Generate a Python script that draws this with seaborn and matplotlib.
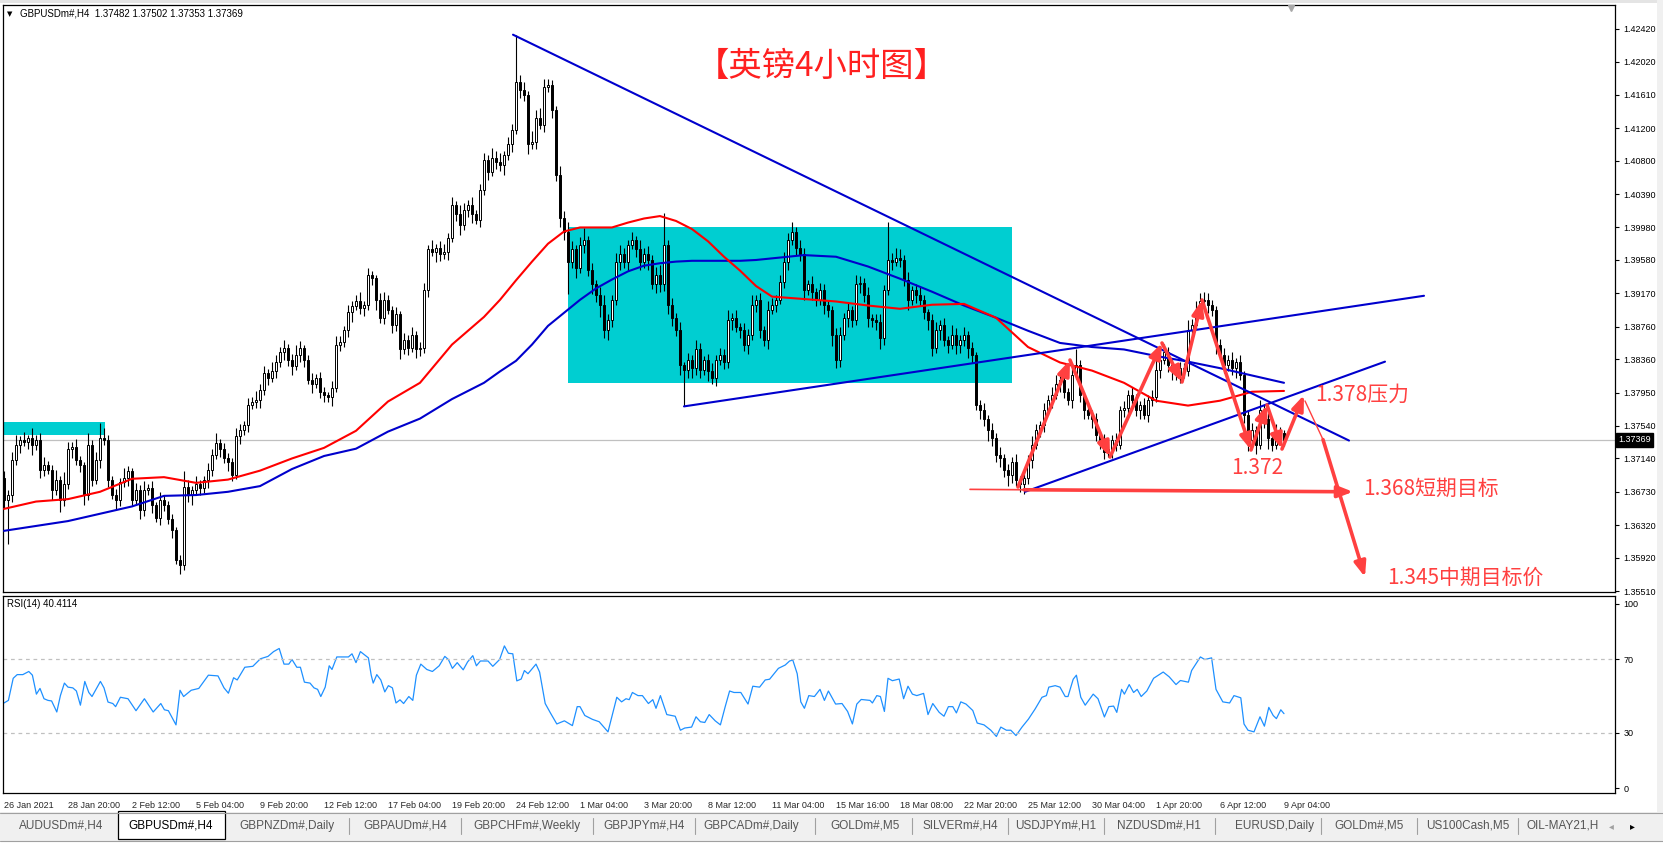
import numpy as np
import pandas as pd
import matplotlib
matplotlib.use("Agg")
import matplotlib.pyplot as plt
from matplotlib.patches import Rectangle
import seaborn as sns

sns.set_style("white")
plt.rcParams['font.family'] = ['Liberation Sans', 'DejaVu Sans']
CJK = ['Noto Sans CJK SC', 'DejaVu Sans']

# --- GBPUSD H4 closes, in 1/10000 (one per bar) ---
first_open = 13690
closes = [
    13663, 13669, 13712, 13731, 13737, 13734, 13739, 13730, 13737, 13700, 13706, 13700, 13675, 13688, 13663, 13682, 13725, 13728, 13712, 13706,
    13669, 13731, 13688, 13712, 13739, 13737, 13688, 13669, 13663, 13685, 13690, 13698, 13663, 13675, 13651, 13675, 13678, 13657, 13641, 13663,
    13657, 13639, 13626, 13589, 13583, 13679, 13669, 13675, 13682, 13678, 13688, 13700, 13718, 13733, 13725, 13715, 13710, 13694, 13742, 13749,
    13755, 13780, 13784, 13786, 13798, 13819, 13813, 13821, 13833, 13845, 13850, 13835, 13828, 13841, 13850, 13835, 13811, 13805, 13813, 13796,
    13792, 13789, 13801, 13854, 13857, 13872, 13894, 13902, 13907, 13899, 13903, 13939, 13936, 13909, 13887, 13909, 13897, 13878, 13891, 13848,
    13860, 13850, 13866, 13848, 13850, 13921, 13971, 13968, 13973, 13965, 13968, 13985, 14026, 14014, 14001, 14020, 14026, 14014, 14007, 14044,
    14081, 14066, 14084, 14079, 14075, 14087, 14100, 14118, 14177, 14167, 14161, 14100, 14103, 14133, 14124, 14171, 14173, 14143, 14063, 14010,
    13993, 13956, 13971, 13948, 13977, 13983, 13946, 13928, 13915, 13903, 13872, 13884, 13909, 13956, 13965, 13956, 13977, 13983, 13971, 13956,
    13965, 13958, 13928, 13940, 13928, 13977, 13903, 13887, 13872, 13829, 13823, 13835, 13825, 13848, 13823, 13835, 13821, 13813, 13835, 13841,
    13833, 13884, 13887, 13875, 13872, 13854, 13866, 13903, 13909, 13872, 13860, 13897, 13903, 13909, 13931, 13956, 13983, 13993, 13973, 13965,
    13921, 13928, 13919, 13909, 13921, 13903, 13897, 13866, 13835, 13866, 13887, 13897, 13884, 13928, 13930, 13915, 13887, 13884, 13882, 13862,
    13921, 13958, 13956, 13961, 13958, 13934, 13909, 13921, 13915, 13909, 13894, 13884, 13850, 13872, 13878, 13860, 13854, 13866, 13854, 13860,
    13866, 13850, 13841, 13780, 13774, 13762, 13749, 13739, 13718, 13715, 13700, 13694, 13710, 13688, 13682, 13690, 13712, 13731, 13749, 13755,
    13774, 13786, 13792, 13805, 13811, 13796, 13786, 13817, 13829, 13792, 13774, 13768, 13762, 13743, 13737, 13722, 13725, 13737, 13731, 13774,
    13776, 13792, 13786, 13774, 13780, 13768, 13786, 13789, 13823, 13835, 13845, 13829, 13823, 13817, 13825, 13821, 13872, 13878, 13897, 13907,
    13909, 13903, 13897, 13854, 13841, 13829, 13835, 13825, 13833, 13817, 13768, 13737, 13749, 13731, 13774, 13762, 13739, 13731, 13747, 13745, 13737,
]
wick_up = [
    8, 6, 10, 12, 5, 9, 4, 12, 6, 8, 10, 5, 6, 12, 4, 15, 9, 6, 10, 5,
    4, 14, 6, 10, 19, 12, 6, 4, 8, 5, 12, 7, 4, 9, 6, 11, 5, 8, 4, 10,
    6, 5, 7, 4, 6, 20, 8, 5, 10, 6, 4, 9, 7, 12, 5, 8, 6, 4, 10, 7,
    5, 8, 6, 11, 7, 9, 5, 12, 8, 6, 10, 5, 7, 12, 9, 4, 6, 8, 5, 7,
    6, 4, 8, 10, 7, 5, 9, 6, 8, 12, 5, 9, 6, 4, 8, 10, 6, 5, 9, 4,
    8, 6, 10, 5, 7, 9, 6, 12, 5, 8, 10, 6, 9, 5, 12, 8, 6, 10, 5, 7,
    9, 6, 12, 8, 10, 5, 9, 7, 58, 8, 10, 5, 14, 9, 12, 9, 8, 6, 4, 10,
    8, 12, 10, 6, 9, 14, 5, 8, 6, 10, 12, 8, 6, 10, 12, 8, 6, 10, 5, 12,
    8, 10, 6, 9, 12, 39, 5, 8, 6, 10, 4, 9, 6, 12, 8, 5, 7, 10, 6, 9,
    8, 12, 6, 10, 5, 9, 7, 12, 6, 8, 5, 10, 8, 6, 9, 12, 8, 12, 6, 10,
    8, 6, 10, 5, 9, 7, 6, 4, 8, 10, 6, 9, 5, 12, 8, 6, 10, 5, 7, 9,
    6, 47, 8, 12, 10, 6, 9, 5, 8, 10, 6, 4, 8, 10, 6, 9, 5, 12, 8, 6,
    10, 5, 7, 4, 6, 8, 5, 9, 6, 10, 5, 7, 6, 9, 4, 8, 6, 10, 7, 5,
    8, 6, 10, 12, 7, 9, 5, 8, 20, 6, 4, 9, 6, 8, 5, 7, 10, 6, 8, 5,
    9, 6, 10, 7, 5, 8, 6, 9, 12, 8, 10, 6, 9, 5, 8, 6, 12, 8, 10, 11,
    10, 8, 6, 5, 7, 9, 6, 10, 5, 8, 4, 6, 9, 5, 12, 6, 8, 5, 9, 6, 4,
]
wick_dn = [
    10, 54, 8, 6, 10, 5, 9, 12, 6, 10, 8, 5, 12, 6, 15, 8, 5, 10, 6, 9,
    12, 6, 8, 5, 10, 6, 9, 5, 12, 8, 6, 10, 7, 5, 12, 8, 6, 10, 5, 9,
    8, 6, 10, 5, 11, 6, 8, 12, 5, 9, 6, 10, 8, 5, 9, 6, 12, 8, 5, 10,
    6, 9, 5, 8, 10, 6, 9, 5, 8, 6, 10, 7, 12, 5, 9, 8, 6, 10, 5, 8,
    9, 6, 10, 5, 8, 6, 9, 12, 5, 8, 10, 6, 9, 12, 6, 8, 5, 10, 7, 12,
    6, 9, 5, 10, 8, 6, 9, 5, 12, 8, 6, 10, 5, 8, 12, 6, 9, 10, 5, 8,
    6, 10, 5, 9, 8, 12, 6, 9, 5, 10, 8, 12, 6, 8, 5, 9, 6, 10, 8, 12,
    10, 40, 8, 12, 6, 10, 8, 12, 9, 15, 10, 12, 8, 6, 10, 8, 12, 6, 9, 10,
    8, 12, 6, 10, 9, 8, 12, 10, 8, 12, 44, 10, 12, 8, 10, 6, 12, 8, 10, 6,
    9, 8, 12, 6, 10, 8, 12, 6, 9, 10, 8, 12, 6, 9, 5, 8, 10, 6, 9, 8,
    12, 6, 10, 8, 6, 12, 9, 14, 10, 8, 6, 12, 8, 6, 10, 9, 12, 8, 10, 14,
    8, 6, 10, 5, 9, 8, 12, 6, 10, 8, 9, 12, 10, 6, 12, 8, 10, 6, 12, 10,
    8, 12, 10, 6, 12, 8, 14, 10, 8, 12, 9, 14, 10, 8, 9, 12, 8, 10, 6, 9,
    8, 6, 10, 5, 9, 8, 6, 10, 5, 8, 12, 6, 10, 8, 12, 9, 6, 10, 8, 6,
    9, 6, 10, 8, 12, 6, 9, 8, 6, 10, 5, 9, 12, 6, 10, 8, 6, 9, 5, 8,
    6, 10, 8, 12, 6, 10, 8, 9, 12, 6, 10, 14, 8, 12, 6, 10, 14, 8, 6, 9, 8,
]

# moving averages (read at these bar positions)
ma_bars = [0, 8, 16, 24, 32, 40, 48, 56, 64, 72, 80, 88, 96, 104, 112, 120,
           124, 128, 132, 136, 140, 144, 148, 152, 156, 160, 164, 168, 172, 176, 180, 184, 188, 192,
           200, 208, 216, 224, 232, 240, 248, 256, 264, 272, 280, 288, 296, 304, 312, 320]
ma_red = [13652, 13661, 13664, 13673, 13689, 13691, 13684, 13688, 13699, 13714, 13727, 13748, 13784, 13807, 13854, 13888,
          13909, 13933, 13956, 13978, 13993, 13998, 13998, 13998, 14004, 14009, 14012, 14006, 13996, 13981, 13962, 13945, 13926, 13913,
          13910, 13907, 13902, 13898, 13903, 13904, 13887, 13851, 13832, 13822, 13807, 13785, 13779, 13785, 13796, 13797]
ma_blue = [13625, 13631, 13637, 13646, 13655, 13668, 13669, 13673, 13680, 13701, 13717, 13726, 13747, 13763, 13787, 13807,
           13821, 13834, 13854, 13877, 13893, 13909, 13923, 13934, 13944, 13951, 13954, 13956, 13957, 13957, 13957, 13957, 13958, 13960,
           13964, 13962, 13950, 13935, 13919, 13902, 13887, 13871, 13856, 13851, 13848, 13840, 13833, 13825, 13816, 13807]

# RSI(14) trace
rsi_bar = [0, 1.1, 2.3, 3.3, 4.7, 6.2, 7.1, 8.1, 9.0, 10.0,
           11.0, 11.9, 13.2, 14.1, 15.1, 16.0, 17.2, 18.1, 19.1, 20.2,
           21.2, 22.0, 24.1, 25.0, 26.0, 27.2, 27.9, 29.1, 31.0, 33.0,
           35.1, 37.3, 39.2, 40.1, 41.1, 43.0, 44.0, 44.9, 46.8, 48.7,
           51.1, 53.5, 55.0, 56.1, 57.4, 58.3, 60.2, 62.2, 64.1, 66.0,
           67.4, 68.8, 70.0, 71.2, 72.0, 73.2, 74.1, 75.1, 76.5, 77.5,
           78.4, 79.2, 80.3, 81.3, 82.0, 83.2, 85.1, 86.1, 87.0, 88.0,
           89.1, 90.4, 91.1, 91.8, 92.3, 93.2, 94.2, 95.2, 96.1, 97.1,
           98.0, 99.0, 99.9, 101.2, 102.2, 103.1, 104.2, 105.7, 107.1, 108.8,
           110.2, 111.1, 112.1, 113.3, 114.8, 115.9, 117.2, 118.1, 119.1, 121.0,
           122.2, 123.9, 125.1, 126.1, 127.2, 128.2, 129.3, 130.1, 131.0, 133.0,
           133.9, 135.3, 136.6, 138.2, 140.1, 142.1, 143.3, 144.0, 145.2, 147.1,
           148.8, 151.0, 151.8, 153.2, 154.4, 155.5, 156.3, 157.1, 158.5, 159.6,
           161.1, 162.2, 163.0, 164.1, 165.7, 167.8, 169.1, 170.2, 171.9, 173.0,
           174.1, 175.2, 176.3, 177.8, 179.1, 180.3, 181.4, 182.5, 184.2, 186.0,
           187.2, 188.9, 190.3, 191.4, 193.6, 195.3, 196.4, 197.2, 198.3, 199.2,
           200.1, 201.2, 202.6, 204.0, 205.1, 206.1, 207.9, 209.5, 210.9, 212.1,
           213.2, 214.3, 216.5, 217.1, 218.2, 219.1, 220.1, 221.0, 222.1, 223.8,
           224.9, 226.0, 227.1, 228.2, 229.9, 231.0, 232.2, 233.8, 235.0, 236.1,
           237.2, 238.1, 239.2, 240.5, 242.2, 243.3, 245.0, 246.7, 248.1, 249.2,
           250.6, 251.7, 253.0, 254.5, 256.1, 257.8, 259.5, 260.6, 261.2, 262.8,
           264.0, 265.3, 266.0, 267.3, 268.1, 269.2, 270.3, 272.3, 273.5, 275.1,
           276.2, 277.4, 278.2, 279.4, 280.1, 281.3, 282.4, 283.3, 284.3, 285.7,
           287.4, 289.8, 291.3, 293.0, 294.1, 296.1, 296.9, 299.1, 300.2, 301.9,
           303.0, 304.7, 306.4, 307.5, 309.2, 310.0, 311.0, 312.5, 314.0, 315.1,
           316.2, 317.3, 318.1, 319.2, 320.0]
rsi_val = [46.2, 47.6, 59.6, 61.6, 61.6, 63.3, 61.3, 51.0, 54.1, 48.5,
           47.6, 47.3, 41.3, 50.2, 57.0, 54.8, 54.4, 52.7, 45.0, 57.9,
           51.9, 49.7, 57.9, 54.4, 46.7, 45.9, 44.2, 49.3, 48.5, 42.0,
           48.5, 41.3, 45.9, 42.5, 42.0, 34.3, 53.1, 49.7, 53.1, 54.1,
           61.3, 60.9, 54.4, 51.5, 59.9, 58.7, 65.6, 66.1, 70.2, 71.5,
           74.1, 75.8, 67.3, 67.3, 69.8, 65.6, 65.6, 57.5, 57.0, 54.4,
           53.6, 49.7, 54.8, 66.4, 64.4, 71.2, 71.2, 71.2, 72.9, 68.1,
           74.1, 71.9, 70.7, 61.3, 57.0, 61.6, 58.7, 52.2, 55.6, 54.4,
           46.2, 47.9, 45.9, 49.7, 47.6, 61.3, 67.3, 64.4, 63.3, 66.4,
           71.5, 69.8, 65.0, 68.1, 64.2, 68.5, 71.9, 66.4, 69.0, 69.0,
           66.1, 69.8, 77.2, 73.2, 72.9, 58.2, 59.2, 63.8, 62.1, 67.3,
           63.0, 45.9, 40.8, 34.8, 36.5, 33.9, 44.2, 44.2, 39.4, 37.3,
           36.0, 30.5, 37.4, 49.3, 46.8, 48.5, 48.0, 51.9, 50.2, 50.2,
           45.9, 48.0, 43.3, 50.2, 39.9, 39.0, 31.4, 32.6, 33.1, 38.7,
           36.0, 35.6, 39.9, 36.5, 34.3, 44.2, 52.7, 51.9, 51.9, 45.6,
           55.3, 54.8, 58.7, 59.1, 65.0, 66.8, 69.0, 69.5, 62.1, 46.8,
           43.3, 50.2, 49.7, 53.6, 47.6, 52.7, 45.6, 45.9, 41.6, 34.8,
           45.6, 48.1, 47.6, 46.2, 50.2, 49.7, 41.6, 59.6, 58.3, 59.2,
           48.5, 55.3, 51.0, 50.2, 51.4, 39.9, 45.9, 41.1, 39.0, 44.2,
           44.2, 40.8, 46.8, 45.6, 42.1, 35.3, 34.3, 31.4, 28.0, 33.1,
           31.4, 31.4, 28.5, 33.1, 37.4, 43.0, 49.3, 50.2, 54.8, 55.6,
           54.8, 49.7, 49.7, 59.1, 61.3, 49.3, 45.0, 51.0, 48.5, 38.6,
           44.2, 44.5, 41.1, 53.6, 51.0, 56.2, 51.9, 53.6, 49.7, 52.7,
           59.6, 63.0, 60.4, 56.2, 58.4, 57.5, 63.8, 71.2, 69.8, 70.7,
           53.6, 46.8, 46.2, 50.2, 49.0, 34.8, 31.4, 30.5, 38.7, 33.6,
           43.8, 39.4, 37.7, 42.5, 40.4]

date_labels = ["26 Jan 2021", "28 Jan 20:00", "2 Feb 12:00", "5 Feb 04:00", "9 Feb 20:00",
               "12 Feb 12:00", "17 Feb 04:00", "19 Feb 20:00", "24 Feb 12:00", "1 Mar 04:00",
               "3 Mar 20:00", "8 Mar 12:00", "11 Mar 04:00", "15 Mar 16:00", "18 Mar 08:00",
               "22 Mar 20:00", "25 Mar 12:00", "30 Mar 04:00", "1 Apr 20:00", "6 Apr 12:00", "9 Apr 04:00"]
price_ticks = [1.42420, 1.42020, 1.41610, 1.41200, 1.40800, 1.40390, 1.39980, 1.39580, 1.39170,
               1.38760, 1.38360, 1.37950, 1.37540, 1.37140, 1.36730, 1.36320, 1.35920, 1.35510]
last_price = 1.37369

# drawn objects (bar index, price)
trend_lines = [((127.25, 1.4235), (336.25, 1.3736)),
               ((170.0, 1.3778), (355.0, 1.3914)),
               ((255.25, 1.3673), (345.25, 1.3833))]
zig_bar = [253.5, 266.5, 276.5, 289.5, 294.5, 299.5, 311.75, 315.75, 319.5, 325.0]
zig_px = [1.36789, 1.38350, 1.37158, 1.38559, 1.38080, 1.39088, 1.37244, 1.37797, 1.37256, 1.37920]

tabs = ["AUDUSDm#,H4", "GBPUSDm#,H4", "GBPNZDm#,Daily", "GBPAUDm#,H4", "GBPCHFm#,Weekly",
        "GBPJPYm#,H4", "GBPCADm#,Daily", "GOLDm#,M5", "SILVERm#,H4", "USDJPYm#,H1",
        "NZDUSDm#,H1", "EURUSD,Daily", "GOLDm#,M5", "US100Cash,M5", "OIL-MAY21,H"]
tab_x = [61, 171, 287, 405, 527, 644, 751, 865, 960, 1056, 1159, 1274, 1369, 1468, 1563]
sep_x = [349, 461, 593, 695, 815, 912, 1008, 1104, 1215, 1321, 1417, 1518]

# --- figure ---
W, H = 1663, 848
fig = plt.figure(figsize=(W / 100, H / 100), dpi=100)

def fbox(x0, y0, x1, y1):
    return [x0 / W, 1 - y1 / H, (x1 - x0) / W, (y1 - y0) / H]

ax = fig.add_axes(fbox(3, 5, 1615, 592))
ar = fig.add_axes(fbox(3, 596, 1615, 793), sharex=ax)

c = np.array(closes) / 1e4
o = np.r_[first_open / 1e4, c[:-1]]
hi = np.maximum(o, c) + np.array(wick_up) / 1e4
lo = np.minimum(o, c) - np.array(wick_dn) / 1e4
x = np.arange(len(c))
bull = c >= o

# background objects
ax.add_patch(Rectangle((141, 1.3807), 111, 0.0192, fc="#00ced1", ec="none", zorder=1))
ax.add_patch(Rectangle((-1, 1.37428), 26.25, 0.00166, fc="#00ced1", ec="none", zorder=1))
ax.axhline(last_price, color="#c0c0c0", lw=0.9, zorder=1.5)

# candles
ax.vlines(x, lo, hi, color="black", lw=0.8, zorder=3)
ax.bar(x[bull], np.maximum(c - o, 0.00003)[bull], bottom=o[bull], width=0.72,
       color="white", edgecolor="black", linewidth=0.7, zorder=4)
ax.bar(x[~bull], (o - c)[~bull], bottom=c[~bull], width=0.72,
       color="black", edgecolor="black", linewidth=0.7, zorder=4)

# moving averages
ma = pd.DataFrame({"bar": ma_bars, "red": np.array(ma_red) / 1e4, "blue": np.array(ma_blue) / 1e4})
sns.lineplot(data=ma, x="bar", y="blue", ax=ax, color="#0000cc", lw=1.5, zorder=5)
sns.lineplot(data=ma, x="bar", y="red", ax=ax, color="#ff0000", lw=1.5, zorder=5)

for (x0, y0), (x1, y1) in trend_lines:
    ax.plot([x0, x1], [y0, y1], color="#0000cd", lw=1.5, zorder=6)

# red arrows
red = "#ff4040"
def arrow(p0, p1, lw=2.6):
    ax.annotate("", xy=p1, xytext=p0, zorder=7,
                arrowprops=dict(arrowstyle="-|>,head_length=0.9,head_width=0.35",
                                color=red, lw=lw, shrinkA=0, shrinkB=0))

for i in range(len(zig_bar) - 1):
    arrow((zig_bar[i], zig_px[i]), (zig_bar[i + 1], zig_px[i + 1]))
ax.plot([241.5, 255], [1.3676, 1.36755], color=red, lw=1.2, zorder=7)
arrow((255, 1.36755), (337.25, 1.3673))
ax.plot([325.25, 329.75], [1.37847, 1.37372], color=red, lw=1.0, zorder=7)
arrow((329.75, 1.37372), (340.25, 1.35682))

# text
ax.text(204.5, 1.41965, "【英镑4小时图】", ha="center", va="center", fontsize=24,
        color="#ff2020", family=CJK, zorder=8)
ax.text(327.75, 1.3792, "1.378压力", ha="left", va="center", fontsize=15, color=red, family=CJK, zorder=8)
ax.text(313.25, 1.37022, "1.372", ha="center", va="center", fontsize=15, color=red, family=CJK, zorder=8)
ax.text(339.75, 1.36764, "1.368短期目标", ha="left", va="center", fontsize=15, color=red, family=CJK, zorder=8)
ax.text(345.75, 1.3567, "1.345中期目标价", ha="left", va="center", fontsize=15, color=red, family=CJK, zorder=8)
ax.text(1.002, last_price, "1.37369", transform=ax.get_yaxis_transform(), ha="left", va="center",
        fontsize=6.5, color="white", zorder=9, clip_on=False,
        bbox=dict(boxstyle="square,pad=0.25", fc="black", ec="black"))

# RSI panel
sns.lineplot(x=rsi_bar, y=rsi_val, ax=ar, color="#1e90ff", lw=0.9, sort=False)
for lvl in (30, 70):
    ar.axhline(lvl, color="#c0c0c0", lw=0.9, ls=(0, (3, 3)))

# axes styling
ax.set_xlim(-0.25, 402.75)
ax.set_ylim(1.35498, 1.42715)
ar.set_ylim(-2.7, 104.3)
for a in (ax, ar):
    a.set_xlabel("")
    a.set_ylabel("")
    for s in a.spines.values():
        s.set_color("black")
        s.set_linewidth(0.9)
    a.yaxis.tick_right()
    a.tick_params(axis="y", length=3, width=0.8, pad=3, direction="out", labelsize=6.5, colors="black")

ax.set_yticks(price_ticks)
ax.set_yticklabels([f"{p:.5f}" for p in price_ticks])
ax.tick_params(axis="x", bottom=False, labelbottom=False)
ar.set_yticks([0, 30, 70, 100])
ar.set_yticklabels(["0", "30", "70", "100"])
ar.set_xticks([16 * k for k in range(len(date_labels))])
ar.set_xticklabels(date_labels, ha="left")
ar.tick_params(axis="x", length=4, width=0.8, pad=2, direction="out", labelsize=6.5)
for lab in ar.get_xticklabels():
    lab.set_horizontalalignment("left")

# window chrome: overlay in pixel units
ov = fig.add_axes([0, 0, 1, 1])
ov.set_xlim(0, W)
ov.set_ylim(H, 0)
ov.axis("off")
ov.patch.set_alpha(0)
ov.set_zorder(10)
ov.add_patch(Rectangle((0, 0), W, 3, fc="#e4e4e4", ec="none"))
ov.add_patch(Rectangle((1657, 0), 6, 812, fc="#f0f0f0", ec="none"))
ov.add_patch(Rectangle((0, 812), W, 29, fc="#f0f0f0", ec="none"))
ov.plot([0, W], [812.5, 812.5], color="#a0a0a0", lw=0.8)
ov.plot([0, W], [840.5, 840.5], color="#a0a0a0", lw=0.8)
ov.add_patch(Rectangle((118, 811), 107, 28, fc="white", ec="black", lw=0.9))
for name, tx in zip(tabs, tab_x):
    ov.text(tx, 826, name, ha="center", va="center", fontsize=8.5,
            color="black" if name == "GBPUSDm#,H4" else "#555555")
for sx in sep_x:
    ov.plot([sx, sx], [818, 834], color="#a0a0a0", lw=0.8)
ov.text(1611, 826, "◂", ha="center", va="center", fontsize=7, color="#a0a0a0", family=["DejaVu Sans"])
ov.text(1632, 826, "▸", ha="center", va="center", fontsize=7, color="black", family=["DejaVu Sans"])
ov.plot([1291], [8], marker="v", color="#a8a8a8", ms=5)

ov.text(7, 14, "▼", ha="left", va="center", fontsize=5, color="black", family=["DejaVu Sans"])
ov.text(20, 14, "GBPUSDm#,H4  1.37482 1.37502 1.37353 1.37369", ha="left", va="center",
        fontsize=7, color="black")
ov.text(7, 604, "RSI(14) 40.4114", ha="left", va="center", fontsize=7, color="black")

fig.savefig("out.png", dpi=100)
